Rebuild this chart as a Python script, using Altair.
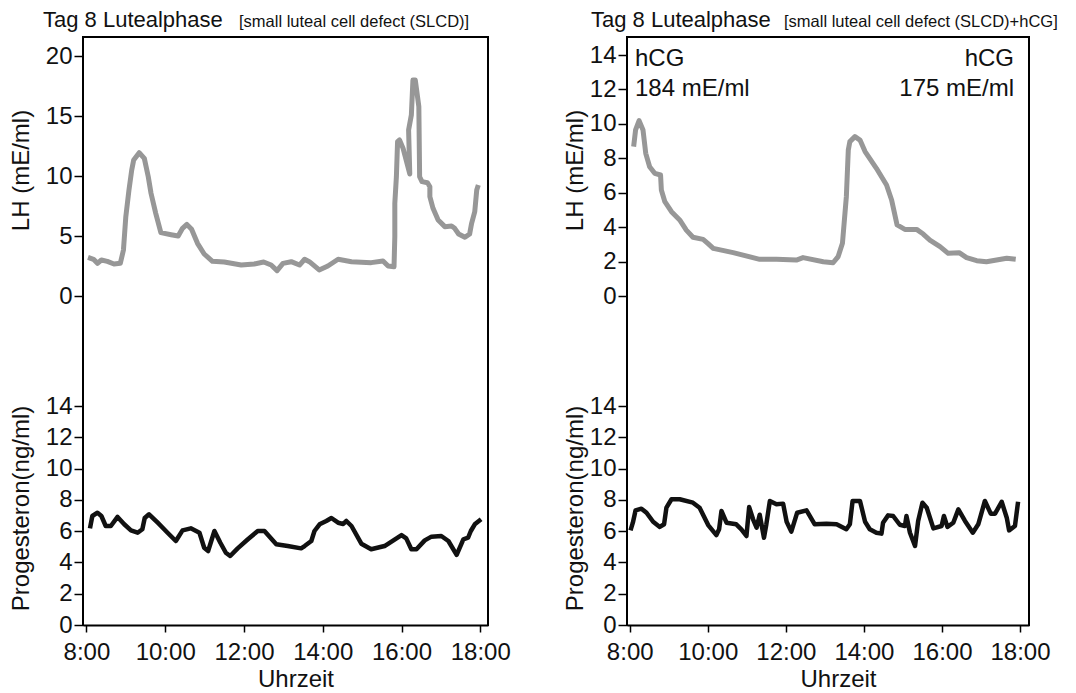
import altair as alt
import pandas as pd

FONT = "Liberation Sans"

# ---------------- data (hours of day, values) ----------------
# Left panel: LH (mE/ml)
lh_left_t = [8.04, 8.18, 8.28, 8.38, 8.53, 8.70, 8.86, 8.94, 9.00, 9.08, 9.15, 9.20, 9.34, 9.47, 9.57,
             9.64, 9.76, 9.89, 10.15, 10.33, 10.44, 10.55, 10.67, 10.82, 10.99, 11.20, 11.50, 11.93,
             12.26, 12.50, 12.69, 12.84, 12.99, 13.20, 13.41, 13.54, 13.66, 13.91, 14.13, 14.39, 14.73,
             15.23, 15.53, 15.66, 15.81, 15.83, 15.83, 15.87, 15.90, 15.95, 16.04, 16.21, 16.18, 16.25,
             16.29, 16.35, 16.44, 16.46, 16.52, 16.66, 16.72, 16.72, 16.80, 16.93, 17.10, 17.27, 17.35,
             17.45, 17.61, 17.73, 17.78, 17.86, 17.91, 17.95]
lh_left_v = [3.22, 3.06, 2.72, 3.00, 2.89, 2.67, 2.72, 3.83, 6.61, 8.83, 10.5, 11.33, 11.94, 11.47, 9.94,
             8.56, 6.89, 5.28, 5.11, 5.00, 5.64, 5.97, 5.56, 4.39, 3.50, 2.89, 2.83, 2.58,
             2.67, 2.83, 2.58, 2.11, 2.72, 2.86, 2.58, 3.06, 2.86, 2.17, 2.50, 3.06, 2.86,
             2.78, 2.92, 2.50, 2.44, 4.94, 7.72, 9.94, 12.86, 13.0, 12.3, 10.17, 13.83, 15.08,
             18.0, 18.0, 15.78, 9.94, 9.53, 9.44, 9.11, 8.28, 7.31, 6.33, 5.78, 5.83, 5.64,
             5.17, 4.89, 5.17, 6.06, 7.03, 8.83, 9.25]

# Left panel: Progesteron (ng/ml)
pg_left_t = [8.09, 8.15, 8.28, 8.38, 8.49, 8.62, 8.79, 8.96, 9.13, 9.30, 9.42, 9.48, 9.59, 9.81, 10.06,
             10.27, 10.44, 10.65, 10.87, 10.99, 11.09, 11.25, 11.40, 11.54, 11.65, 11.84, 12.10, 12.35,
             12.52, 12.82, 13.11, 13.45, 13.54, 13.71, 13.79, 13.92, 14.09, 14.22, 14.39, 14.52, 14.60,
             14.73, 14.98, 15.23, 15.57, 16.00, 16.12, 16.25, 16.38, 16.59, 16.76, 17.01, 17.19, 17.40,
             17.57, 17.69, 17.76, 17.86, 18.02]
pg_left_v = [6.18, 6.97, 7.18, 6.97, 6.33, 6.33, 6.91, 6.44, 6.05, 5.90, 6.12, 6.84, 7.08, 6.54, 5.90,
             5.37, 6.05, 6.18, 5.90, 4.94, 4.73, 6.01, 5.26, 4.62, 4.41, 4.90, 5.48, 6.01,
             6.01, 5.16, 5.05, 4.90, 5.05, 5.37, 6.01, 6.44, 6.65, 6.84, 6.54, 6.46, 6.65,
             6.33, 5.20, 4.84, 5.05, 5.75, 5.54, 4.84, 4.84, 5.41, 5.65, 5.69, 5.37, 4.48,
             5.48, 5.58, 6.01, 6.44, 6.76]

# Right panel: LH (mE/ml)
lh_right_t = [8.10, 8.15, 8.24, 8.34, 8.41, 8.51, 8.64, 8.79, 8.81, 8.90, 9.07, 9.28, 9.45, 9.62, 9.88,
              10.00, 10.14, 10.65, 11.33, 11.76, 12.27, 12.44, 12.96, 13.21, 13.34, 13.45, 13.55, 13.60,
              13.64, 13.77, 13.90, 14.03, 14.32, 14.58, 14.71, 14.85, 15.05, 15.35, 15.52, 15.69, 15.95,
              16.16, 16.44, 16.63, 16.89, 17.14, 17.40, 17.66, 17.89]
lh_right_v = [8.68, 9.65, 10.19, 9.65, 8.29, 7.51, 7.13, 7.03, 6.16, 5.48, 4.90, 4.42, 3.83, 3.41, 3.29,
              3.06, 2.77, 2.52, 2.13, 2.13, 2.09, 2.23, 1.99, 1.93, 2.29, 3.06, 5.77, 8.48,
              8.97, 9.26, 9.06, 8.39, 7.42, 6.45, 5.58, 4.13, 3.87, 3.87, 3.60, 3.25, 2.87,
              2.48, 2.52, 2.23, 2.05, 1.99, 2.09, 2.19, 2.13]

# Right panel: Progesteron (ng/ml)
pg_right_t = [8.02, 8.08, 8.15, 8.30, 8.43, 8.60, 8.77, 8.88, 8.94, 9.07, 9.28, 9.62, 9.79, 10.01, 10.22,
              10.29, 10.35, 10.48, 10.73, 10.86, 10.99, 11.06, 11.16, 11.25, 11.33, 11.44, 11.50, 11.59,
              11.76, 11.93, 12.02, 12.14, 12.29, 12.53, 12.74, 13.04, 13.30, 13.55, 13.64, 13.71, 13.90,
              14.03, 14.15, 14.32, 14.45, 14.49, 14.62, 14.75, 14.92, 15.05, 15.09, 15.18, 15.31, 15.39,
              15.50, 15.61, 15.78, 15.99, 16.05, 16.14, 16.29, 16.42, 16.59, 16.79, 16.93, 17.10, 17.25,
              17.36, 17.53, 17.66, 17.72, 17.87, 17.95]
pg_right_v = [6.05, 6.54, 7.33, 7.44, 7.18, 6.60, 6.27, 6.44, 7.50, 8.04, 8.04, 7.82, 7.50, 6.39, 5.75,
              6.12, 7.29, 6.54, 6.44, 6.12, 5.69, 7.54, 6.76, 6.22, 7.05, 5.58, 6.44, 7.93,
              7.72, 7.76, 6.60, 5.97, 7.18, 7.33, 6.44, 6.48, 6.44, 6.12, 6.44, 7.93, 7.93,
              6.60, 6.12, 5.90, 5.84, 6.54, 7.01, 6.97, 6.41, 6.33, 6.97, 5.90, 5.05, 6.65,
              7.82, 7.50, 6.18, 6.33, 6.97, 6.27, 6.54, 7.39, 6.65, 5.90, 6.44, 7.93, 7.12,
              7.12, 7.88, 6.86, 6.05, 6.33, 7.88]

time_ticks = [8, 10, 12, 14, 16, 18]
lh_left_ticks = [0, 5, 10, 15, 20]
lh_right_ticks = [0, 2, 4, 6, 8, 10, 12, 14]
pg_ticks = [0, 2, 4, 6, 8, 10, 12, 14]

title_main = "Tag 8 Lutealphase"
title_sub_left = "[small luteal cell defect (SLCD)]"
title_sub_right = "[small luteal cell defect (SLCD)+hCG]"
hcg_first = ["hCG", "184 mE/ml"]
hcg_second = ["hCG", "175 mE/ml"]

H1, H2 = 293, 295
one = pd.DataFrame({"a": [0]})


def rule(x, x2=None, y=None, y2=None):
    enc = {"x": alt.value(x), "y": alt.value(y)}
    if x2 is not None:
        enc["x2"] = alt.value(x2)
    if y2 is not None:
        enc["y2"] = alt.value(y2)
    return alt.Chart(one).mark_rule(color="black", strokeWidth=2).encode(**enc)


def panel(lh_t, lh_v, pg_t, pg_v, W, xdom, lh_dom, lh_ticks, sub, main_dx, sub_dx,
          title_pad, notes=None):
    lh_df = pd.DataFrame({"t": lh_t, "v": lh_v, "i": list(range(len(lh_t)))})
    pg_df = pd.DataFrame({"t": pg_t, "v": pg_v, "i": list(range(len(pg_t)))})
    xs = alt.Scale(domain=xdom, nice=False, zero=False)

    lh_line = alt.Chart(lh_df).mark_line(
        color="#979797", strokeWidth=5, strokeJoin="round", strokeCap="butt"
    ).encode(
        x=alt.X("t:Q", scale=xs, axis=None),
        y=alt.Y("v:Q", scale=alt.Scale(domain=lh_dom, nice=False, zero=False),
                axis=alt.Axis(values=lh_ticks, format="d", title="LH (mE/ml)", domain=False,
                              titleY=133, titlePadding=title_pad)),
        order=alt.Order("i:Q"),
    )
    t_main = alt.Chart(one).mark_text(
        text=title_main, font=FONT, fontSize=22, align="left", baseline="alphabetic", color="#111"
    ).encode(x=alt.value(main_dx), y=alt.value(-10))
    t_sub = alt.Chart(one).mark_text(
        text=sub, font=FONT, fontSize=16.5, align="left", baseline="alphabetic", color="#111"
    ).encode(x=alt.value(sub_dx), y=alt.value(-10))
    layers = [lh_line, rule(-1, x2=W + 1, y=0), rule(W, y=0, y2=H1 + 4),
              rule(0, y=0, y2=H1 + 4), t_main, t_sub]
    if notes:
        for txt, xx, yy, al in notes:
            layers.append(alt.Chart(one).mark_text(
                text=txt, font=FONT, fontSize=24, align=al, baseline="alphabetic", color="#111"
            ).encode(x=alt.value(xx), y=alt.value(yy)))
    upper = alt.layer(*layers).properties(width=W, height=H1)

    pg_line = alt.Chart(pg_df).mark_line(
        color="#111111", strokeWidth=4.5, strokeJoin="round"
    ).encode(
        x=alt.X("t:Q", scale=xs,
                axis=alt.Axis(values=time_ticks, labelExpr="datum.value + ':00'",
                              title="Uhrzeit", labelFlush=False, tickSize=7,
                              labelPadding=8, titlePadding=3, titleX=(W / 2 + 10))),
        y=alt.Y("v:Q", scale=alt.Scale(domain=[0, H2 / 15.64], nice=False, zero=False),
                axis=alt.Axis(values=pg_ticks, format="d", title="Progesteron(ng/ml)",
                              domain=False, titleY=178, titlePadding=title_pad)),
        order=alt.Order("i:Q"),
    )
    lower = alt.layer(pg_line, rule(W, y=-4, y2=H2 + 1), rule(0, y=-4, y2=H2 + 1)).properties(
        width=W, height=H2)

    return alt.vconcat(upper, lower, spacing=0, bounds="flush")


left = panel(lh_left_t, lh_left_v, pg_left_t, pg_left_v, 405, [7.913, 18.196],
             [-34 / 12, 259 / 12], lh_left_ticks, title_sub_left, -40, 156, 12)
right = panel(lh_right_t, lh_right_v, pg_right_t, pg_right_v, 402, [7.93, 18.23],
              [-34 / 17.21, 259 / 17.21], lh_right_ticks, title_sub_right, -36, 157, 2,
              notes=[(hcg_first[0], 8, 29, "left"), (hcg_first[1], 8, 59, "left"),
                     (hcg_second[0], 387, 29, "right"), (hcg_second[1], 387, 59, "right")])

chart = alt.hconcat(left, right, spacing=52).properties(
    padding={"left": 1, "top": 1, "right": 0, "bottom": 0}
).configure_view(stroke=None).configure_axis(
    domainColor="black", domainWidth=2, tickColor="black", tickWidth=1.5, tickSize=9,
    labelPadding=2, labelFont=FONT, labelFontSize=24, labelColor="#111",
    titleFont=FONT, titleFontSize=24, titleFontWeight="normal", titleColor="#111", grid=False
).configure_concat(spacing=0)

chart.save("out.html", embed_options={"renderer": "svg", "actions": False})
